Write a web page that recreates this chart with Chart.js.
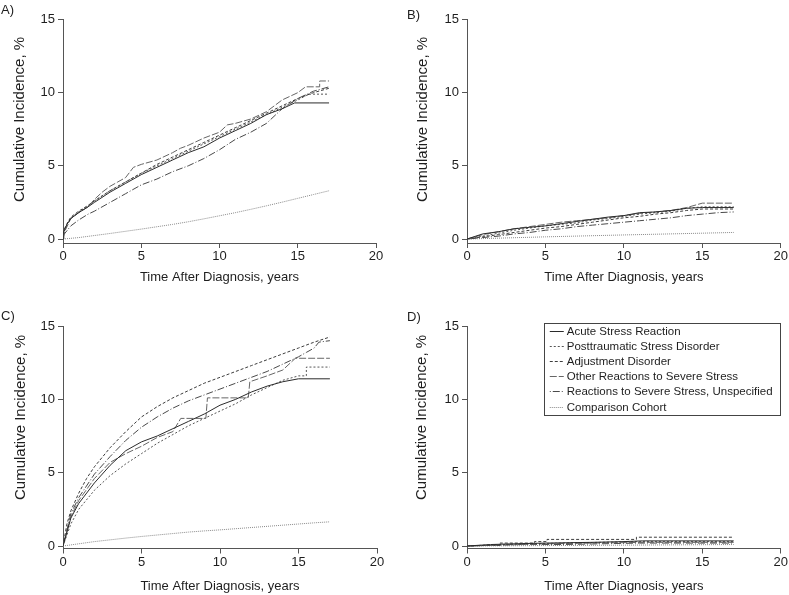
<!DOCTYPE html>
<html>
<head>
<meta charset="utf-8">
<script src="https://cdn.jsdelivr.net/npm/chart.js@4.4.0/dist/chart.umd.min.js"></script>
<style>
  body { margin: 0; background: #fff; }
  #wrap { position: relative; width: 789px; height: 595px; }
  canvas { position: absolute; }
</style>
</head>
<body>
<div id="wrap">
  <canvas id="panelA" width="394" height="297" style="left:0;top:0"></canvas>
  <canvas id="panelB" width="395" height="297" style="left:394px;top:0"></canvas>
  <canvas id="panelC" width="394" height="298" style="left:0;top:297px"></canvas>
  <canvas id="panelD" width="395" height="298" style="left:394px;top:297px"></canvas>
</div>
<script>
// series order for every panel
const seriesNames = [
  "Acute Stress Reaction",
  "Posttraumatic Stress Disorder",
  "Adjustment Disorder",
  "Other Reactions to Severe Stress",
  "Reactions to Severe Stress, Unspecified",
  "Comparison Cohort"
];
const xTicks = [0, 5, 10, 15, 20];
const yTicks = [0, 5, 10, 15];
const xTitle = "Time After Diagnosis, years";
const yTitle = "Cumulative Incidence, %";

// [years, cumulative incidence %]
// panel A
const aAcute = [[0,0],[0.05,0.5],[0.25,1.0],[0.5,1.4],[1,1.8],[1.6,2.2],[2,2.5],[3,3.2],[4,3.8],[5,4.4],[6,4.9],[7,5.4],[8,5.9],[9,6.3],[10,6.9],[11,7.4],[12,7.9],[13,8.5],[14,8.9],[14.8,9.3],[17,9.3]];
const aPtsd = [[0,0],[0.05,0.5],[0.25,1.0],[0.5,1.45],[1,1.85],[1.6,2.25],[2,2.6],[3,3.3],[4,3.9],[5,4.5],[6,5.0],[7,5.5],[8,6.0],[9,6.5],[10,7.0],[11,7.5],[12,8.0],[13,8.5],[14,9.0],[15,9.5],[15.7,9.9],[17,9.9]];
const aAdjust = [[0,0],[0.05,0.6],[0.25,1.05],[0.5,1.5],[1,1.9],[1.6,2.3],[2,2.6],[3,3.3],[4,3.9],[5,4.5],[6,5.1],[7,5.6],[8,6.1],[9,6.6],[10,7.1],[11,7.6],[12,8.1],[13,8.6],[14,9.1],[15,9.6],[16,10.0],[17,10.3]];
const aOther = [[0,0],[0.1,0.5],[0.5,1.4],[1,1.8],[1.6,2.2],[2,2.7],[2.5,3.2],[3,3.6],[3.5,3.9],[4,4.2],[4.5,4.9],[5,5.1],[6,5.4],[7,5.9],[7.5,6.2],[8,6.4],[9,6.9],[10,7.3],[10.5,7.8],[11,7.9],[12,8.2],[13,8.7],[14,9.5],[15,10.0],[15.5,10.4],[16.4,10.4],[16.4,10.8],[17,10.8]];
const aUnspec = [[0,0],[0.05,0.3],[0.5,0.9],[1,1.3],[1.6,1.7],[2,1.9],[3,2.5],[4,3.1],[5,3.7],[6,4.1],[7,4.6],[8,5.0],[9,5.5],[10,6.1],[11,6.8],[12,7.3],[13,7.9],[14,8.9],[15,9.6],[16,10.1],[17,10.4]];
const aComp = [[0,0],[1,0.1],[2,0.24],[3,0.38],[4,0.53],[5,0.68],[6,0.84],[7,1.0],[8,1.18],[9,1.38],[10,1.59],[11,1.8],[12,2.03],[13,2.27],[14,2.52],[15,2.78],[16,3.04],[17,3.3]];
// panel B
const bAcute = [[0,0],[1,0.35],[2,0.5],[3,0.7],[4,0.8],[5,0.9],[6,1.05],[7,1.2],[8,1.35],[9,1.5],[10,1.6],[11,1.8],[12,1.85],[13,1.95],[14,2.1],[15,2.15],[17,2.15]];
const bPtsd = [[0,0],[1,0.2],[2,0.4],[3,0.6],[4,0.75],[5,0.9],[6,1.0],[7,1.1],[8,1.3],[9,1.4],[10,1.55],[11,1.7],[12,1.8],[13,1.9],[14,2.1],[15,2.2],[17,2.2]];
const bAdjust = [[0,0],[1,0.15],[2,0.3],[3,0.45],[4,0.6],[5,0.75],[6,0.85],[7,1.0],[8,1.15],[9,1.3],[10,1.45],[11,1.55],[12,1.7],[13,1.8],[14,1.95],[15,2.05],[17,2.05]];
const bOther = [[0,0],[1,0.3],[2,0.5],[3,0.7],[4,0.85],[5,1.0],[6,1.15],[7,1.25],[8,1.35],[9,1.45],[10,1.6],[11,1.75],[12,1.85],[13,1.95],[14,2.15],[15,2.45],[17,2.45]];
const bUnspec = [[0,0],[1,0.1],[2,0.2],[3,0.35],[4,0.45],[5,0.6],[6,0.7],[7,0.85],[8,0.95],[9,1.05],[10,1.15],[11,1.25],[12,1.35],[13,1.45],[14,1.6],[15,1.7],[16,1.8],[17,1.85]];
const bComp = [[0,0],[5,0.15],[10,0.28],[15,0.4],[17,0.45]];
// panel C
const cAcute = [[0,0],[0.5,1.9],[1,2.9],[2,4.3],[3,5.5],[4,6.5],[5,7.1],[6,7.5],[7,8.0],[8,8.5],[9,9.0],[10,9.6],[11,10.0],[12,10.5],[13,10.9],[14,11.2],[15,11.4],[17,11.4]];
const cPtsd = [[0,0],[0.5,1.5],[1,2.5],[2,3.8],[3,4.8],[4,5.6],[5,6.3],[6,7.0],[7,7.6],[8,8.2],[9,8.7],[10,9.2],[11,9.7],[12,10.3],[13,10.8],[14,11.3],[15,11.6],[15.5,11.6],[15.5,12.2],[17,12.2]];
const cAdjust = [[0,0],[0.25,1.5],[0.5,2.4],[1,3.6],[1.5,4.6],[2,5.4],[3,6.7],[4,7.8],[5,8.8],[6,9.5],[7,10.1],[8,10.6],[9,11.1],[10,11.5],[11,11.9],[12,12.3],[13,12.7],[14,13.1],[15,13.5],[16,13.9],[17,14.25]];
const cOther = [[0,0],[0.5,2.0],[1,3.1],[2,4.6],[3,5.7],[4,6.3],[5,6.8],[6,7.4],[7,7.8],[7.5,8.7],[9.1,8.7],[9.2,10.1],[11.8,10.1],[11.9,11.2],[13,11.6],[14,12.0],[14.8,12.8],[17,12.8]];
const cUnspec = [[0,0],[0.5,2.2],[1,3.3],[2,4.9],[3,6.1],[4,7.2],[5,8.1],[6,8.8],[7,9.4],[8,9.9],[9,10.3],[10,10.7],[11,11.1],[12,11.5],[13,11.9],[14,12.4],[15,12.9],[15.5,13.2],[16,13.5],[16.3,13.9],[17,14.0]];
const cComp = [[0,0],[1,0.15],[2,0.3],[3,0.42],[4,0.54],[5,0.65],[6,0.75],[7,0.85],[8,0.95],[9,1.03],[10,1.1],[11,1.18],[12,1.26],[13,1.34],[14,1.42],[15,1.5],[16,1.58],[17,1.65]];
// panel D
const dAcute = [[0,0],[1.5,0.1],[3,0.15],[5,0.2],[8,0.25],[10,0.3],[11.2,0.35],[17,0.35]];
const dPtsd = [[0,0],[2,0.1],[4,0.15],[6,0.2],[11,0.3],[17,0.3]];
const dAdjust = [[0,0],[1.5,0.05],[2.1,0.05],[2.1,0.2],[4.3,0.2],[4.3,0.3],[5.1,0.3],[5.1,0.45],[10.8,0.45],[10.8,0.6],[17,0.6]];
const dOther = [[0,0],[2,0.05],[5,0.15],[11.3,0.25],[17,0.25]];
const dUnspec = [[0,0],[3,0.1],[6,0.1],[11,0.2],[17,0.2]];
const dComp = [[0,0],[5,0.03],[10,0.06],[17,0.1]];

const lineColors = ["#2b2b2b", "#555555", "#3d3d3d", "#666666", "#4a4a4a", "#8a8a8a"];
const lineDashes = [[], [2, 2], [3, 2], [7, 2], [1, 2, 7, 2], [1, 1]];
const axisColor = "#555555";
const textColor = "#1e1e1e";
const fontFamily = '"Liberation Sans", Arial, Helvetica, sans-serif';

const panels = [
  { id: "panelA", label: "A)", lx: 1, ly: 10, tx: 20, ty: 202, series: [aAcute, aPtsd, aAdjust, aOther, aUnspec, aComp],
    yMin: -0.27, top: 19.5, right: 18, yWidth: 63, xHeight: 54, xTitlePad: 12.2 },
  { id: "panelB", label: "B)", lx: 13, ly: 15, tx: 28.5, ty: 202, series: [bAcute, bPtsd, bAdjust, bOther, bUnspec, bComp],
    yMin: -0.27, top: 19.3, right: 7, yWidth: 73, xHeight: 54, xTitlePad: 12 },
  { id: "panelC", label: "C)", lx: 1, ly: 19, tx: 20.7, ty: 203, series: [cAcute, cPtsd, cAdjust, cOther, cUnspec, cComp],
    yMin: -0.17, top: 29, right: 17, yWidth: 63, xHeight: 46.5, xTitlePad: 0.5 },
  { id: "panelD", label: "D)", lx: 13, ly: 20, tx: 28.3, ty: 203, series: [dAcute, dPtsd, dAdjust, dOther, dUnspec, dComp],
    yMin: -0.17, top: 29, right: 7, yWidth: 73, xHeight: 46.5, xTitlePad: 1.2, legend: true }
];

// panel letter in the corner and the vertical axis title
const panelText = {
  id: "panelText",
  afterDraw(chart, args, opts) {
    const ctx = chart.ctx;
    ctx.save();
    ctx.fillStyle = textColor;
    ctx.textBaseline = "middle";
    ctx.font = "13px " + fontFamily;
    ctx.fillText(opts.text, opts.x, opts.y);
    ctx.translate(opts.tx, opts.ty);
    ctx.rotate(-Math.PI / 2);
    ctx.font = "15px " + fontFamily;
    ctx.textAlign = "left";
    ctx.fillText(yTitle, 0, 0);
    ctx.restore();
  }
};

// boxed legend inside panel D
const boxLegend = {
  id: "boxLegend",
  afterDraw(chart, args, opts) {
    if (!opts.show) return;
    const { ctx, chartArea } = chart;
    const w = 236, h = 92;
    const left = chartArea.right - w - 1, top = chartArea.top - 3;
    ctx.save();
    ctx.strokeStyle = "#444";
    ctx.lineWidth = 1;
    ctx.strokeRect(Math.round(left) + 0.5, Math.round(top) + 0.5, w, h);
    ctx.font = "11.5px " + fontFamily;
    ctx.textBaseline = "middle";
    seriesNames.forEach((name, i) => {
      const y = Math.round(top + 7.5 + i * 15.2) + 0.5;
      ctx.strokeStyle = lineColors[i];
      ctx.setLineDash(lineDashes[i]);
      ctx.beginPath();
      ctx.moveTo(left + 6, y);
      ctx.lineTo(left + 20, y);
      ctx.stroke();
      ctx.setLineDash([]);
      ctx.fillStyle = textColor;
      ctx.fillText(name, left + 23, y);
    });
    ctx.restore();
  }
};

function makeChart(p) {
  new Chart(document.getElementById(p.id), {
    type: "line",
    data: {
      datasets: p.series.map((pts, i) => ({
        label: seriesNames[i],
        data: pts.map(([t, v]) => ({ x: t, y: v })),
        borderColor: lineColors[i],
        borderDash: lineDashes[i],
        borderWidth: 1,
        pointRadius: 0,
        tension: 0,
        fill: false,
      })),
    },
    options: {
      responsive: false,
      animation: false,
      layout: { padding: { left: 0, top: p.top, right: p.right, bottom: 0 } },
      plugins: {
        legend: { display: false },
        tooltip: { enabled: false },
        panelText: { text: p.label, x: p.lx, y: p.ly, tx: p.tx, ty: p.ty },
        boxLegend: { show: !!p.legend },
      },
      scales: {
        x: {
          type: "linear",
          min: 0,
          max: 20,
          afterBuildTicks: (s) => { s.ticks = xTicks.map((v) => ({ value: v })); },
          afterFit: (s) => { s.height = p.xHeight; },
          grid: { drawOnChartArea: false, tickLength: 5, color: axisColor },
          border: { color: axisColor },
          ticks: { color: textColor, font: { family: fontFamily, size: 13 }, padding: 1, maxRotation: 0 },
          title: { display: true, text: xTitle, color: textColor, font: { family: fontFamily, size: 13 }, padding: { top: 0, bottom: p.xTitlePad } },
        },
        y: {
          min: p.yMin,
          max: 15,
          afterBuildTicks: (s) => { s.ticks = yTicks.map((v) => ({ value: v })); },
          afterFit: (s) => { s.width = p.yWidth; },
          grid: { drawOnChartArea: false, tickLength: 5, color: axisColor },
          border: { color: axisColor },
          ticks: { color: textColor, font: { family: fontFamily, size: 13 }, padding: 3 },
          title: { display: false },
        },
      },
    },
    plugins: [panelText, boxLegend],
  });
}

panels.forEach(makeChart);
</script>
</body>
</html>
